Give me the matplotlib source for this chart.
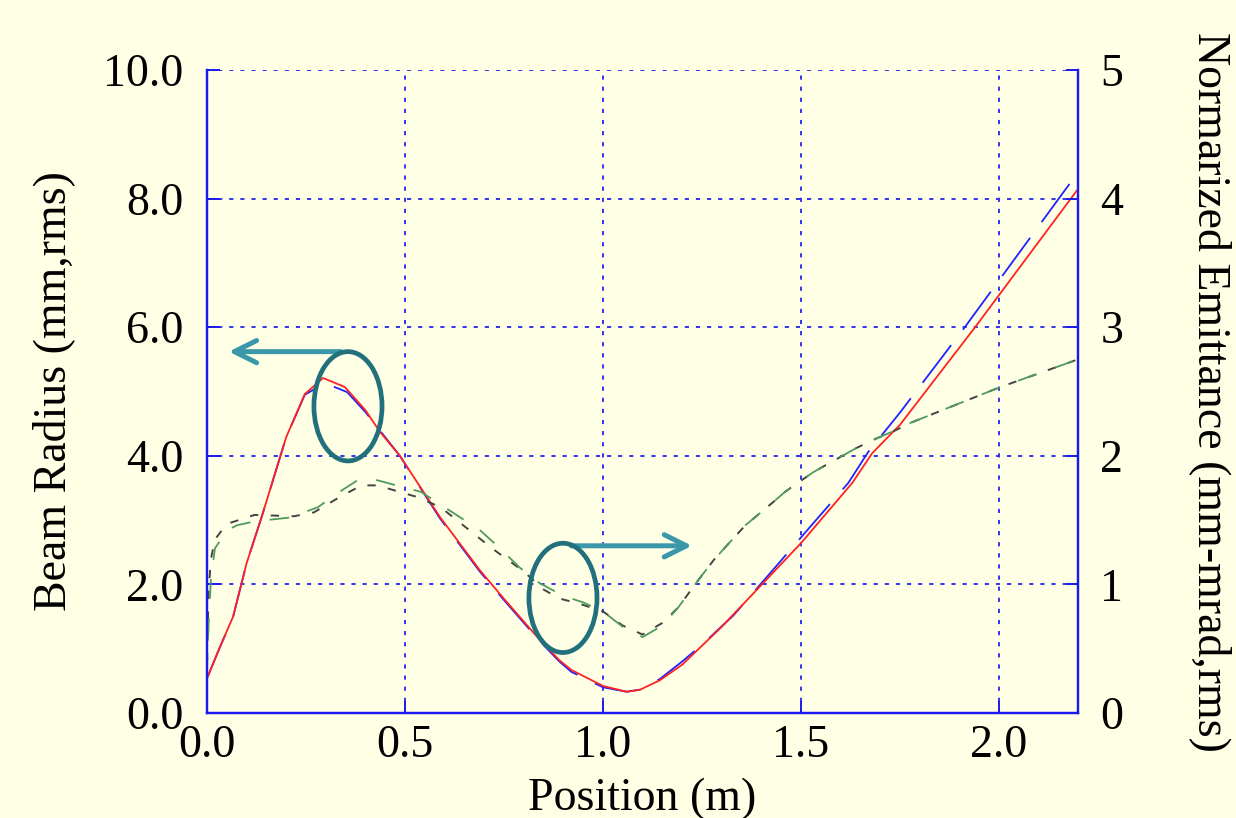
import matplotlib

matplotlib.use("Agg")
import matplotlib.pyplot as plt
from matplotlib.patches import Ellipse

# beam radius (mm, rms) vs position (m), two runs
pos_red = [0.0, 0.033, 0.066, 0.10, 0.138, 0.20, 0.247, 0.293, 0.348, 0.40, 0.437,
           0.487, 0.588, 0.689, 0.748, 0.84, 0.89, 0.92, 1.0, 1.06, 1.093, 1.144,
           1.20, 1.30, 1.40, 1.50, 1.565, 1.63, 1.68, 1.75, 1.94, 2.2]
rad_red = [0.54, 1.03, 1.50, 2.33, 3.05, 4.29, 4.96, 5.21, 5.07, 4.71, 4.37,
           4.0, 3.05, 2.22, 1.79, 1.14, 0.82, 0.67, 0.42, 0.33, 0.36, 0.51,
           0.75, 1.34, 1.99, 2.64, 3.11, 3.58, 4.04, 4.48, 6.0, 8.15]

pos_blue = [0.0, 0.033, 0.066, 0.10, 0.138, 0.20, 0.247, 0.298, 0.354, 0.40, 0.487,
            0.588, 0.689, 0.748, 0.84, 0.89, 0.92, 1.0, 1.06, 1.10, 1.144, 1.20,
            1.25, 1.33, 1.44, 1.51, 1.62, 1.67, 1.75, 1.914, 2.2]
rad_blue = [0.54, 1.03, 1.50, 2.33, 3.05, 4.29, 4.95, 5.13, 4.99, 4.68, 4.0,
            3.03, 2.2, 1.77, 1.12, 0.80, 0.64, 0.40, 0.33, 0.37, 0.53, 0.80,
            1.06, 1.52, 2.30, 2.80, 3.58, 4.06, 4.67, 6.0, 8.41]

# normalized emittance (mm-mrad, rms), two runs
pos_grey = [0.0, 0.004, 0.01, 0.02, 0.05, 0.12, 0.22, 0.27, 0.33, 0.39, 0.43,
            0.53, 0.59, 0.72, 0.80, 0.85, 0.89, 0.94, 1.0, 1.05, 1.10, 1.15,
            1.19, 1.24, 1.28, 1.33, 1.36, 1.43, 1.46, 1.53, 1.57, 1.64, 1.68,
            1.74, 1.78, 2.0, 2.2]
emit_grey = [0.4, 0.95, 1.2, 1.35, 1.47, 1.54, 1.53, 1.56, 1.67, 1.77, 1.77,
             1.68, 1.60, 1.28, 1.10, 0.96, 0.89, 0.85, 0.79, 0.68, 0.61, 0.70,
             0.82, 1.03, 1.19, 1.36, 1.46, 1.64, 1.72, 1.87, 1.94, 2.06, 2.12,
             2.20, 2.26, 2.53, 2.75]

pos_green = [0.0, 0.004, 0.01, 0.02, 0.05, 0.076, 0.12, 0.21, 0.28, 0.33, 0.38,
             0.43, 0.49, 0.54, 0.60, 0.69, 0.74, 0.79, 0.84, 0.90, 0.95, 1.0,
             1.05, 1.10, 1.15, 1.19, 1.24, 1.28, 1.33, 1.36, 1.43, 1.46, 1.53,
             1.57, 1.64, 1.68, 1.74, 1.78, 2.0, 2.2]
emit_green = [0.35, 0.7, 1.05, 1.28, 1.42, 1.46, 1.49, 1.52, 1.60, 1.71, 1.81,
              1.81, 1.76, 1.72, 1.60, 1.42, 1.28, 1.13, 1.01, 0.91, 0.86, 0.79,
              0.67, 0.59, 0.68, 0.82, 1.03, 1.19, 1.36, 1.46, 1.64, 1.72, 1.87,
              1.94, 2.06, 2.12, 2.20, 2.26, 2.53, 2.75]

x_ticks = [0.0, 0.5, 1.0, 1.5, 2.0]
y_ticks = [0.0, 2.0, 4.0, 6.0, 8.0, 10.0]
y2_ticks = [0, 1, 2, 3, 4, 5]

BG = "#ffffe6"
GRID = "#3333ee"
SPINE = "#1a1aee"

plt.rcParams["font.family"] = ["Liberation Serif", "DejaVu Serif"]
plt.rcParams["lines.scale_dashes"] = False

fig = plt.figure(figsize=(12.36, 8.18), dpi=100, facecolor=BG)
ax = fig.add_axes([0.1675, 0.1284, 0.8722 - 0.1675, 0.9144 - 0.1284])
ax.set_facecolor(BG)
ax2 = ax.twinx()

ax.plot(pos_red, rad_red, color="#ff2222", lw=1.3, zorder=4)
ax.plot(pos_blue, rad_blue, color="#2222ff", lw=1.3, ls=(0, (34, 14)), zorder=3)
ax2.plot(pos_grey, emit_grey, color="#444444", lw=1.4, ls=(0, (6, 9)))
ax2.plot(pos_green, emit_green, color="#4f9a5f", lw=1.3, ls=(6, (14, 14)))

ax.set_xlim(0, 2.2)
ax.set_ylim(0, 10)
ax2.set_ylim(0, 5)
ax.set_xticks(x_ticks)
ax.set_xticklabels([f"{v:.1f}" for v in x_ticks])
ax.set_yticks(y_ticks)
ax.set_yticklabels([f"{v:.1f}" for v in y_ticks])
ax2.set_yticks(y2_ticks)
ax2.set_yticklabels([str(v) for v in y2_ticks])

ax.grid(True, color=GRID, ls=(0, (3, 5)), lw=1.4)
ax.set_axisbelow(True)

for a in (ax, ax2):
    a.spines["top"].set_visible(False)
    for side in ("left", "right", "bottom"):
        a.spines[side].set_color(SPINE)
        a.spines[side].set_linewidth(1.6)
ax.tick_params(axis="both", direction="in", length=9, width=1.4, color=SPINE,
               labelsize=33)
ax.tick_params(axis="y", pad=17)
ax.tick_params(axis="x", pad=8)
ax2.tick_params(axis="y", direction="in", length=9, width=1.4, color=SPINE,
                labelsize=33, pad=16)

ax.set_xlabel("Position (m)", fontsize=33, labelpad=8)
ax.set_ylabel("Beam Radius (mm,rms)", fontsize=33, labelpad=20)
ax2.set_ylabel("Normarized Emittance (mm-mrad,rms)", fontsize=33,
               rotation=-90, labelpad=78)

# annotations: ellipses marking each curve family, arrows pointing to its axis
ring = "#22707c"
arrow = "#3a98aa"
head = "->,head_length=1.6,head_width=0.8"
ax2.add_patch(Ellipse((0.356, 4.77 / 2), 0.172, 1.70 / 2, fill=False,
                      ec=ring, lw=3.4, zorder=6))
ax2.add_patch(Ellipse((0.899, 1.79 / 2), 0.172, 1.70 / 2, fill=False,
                      ec=ring, lw=3.4, zorder=6))
ax2.annotate("", xy=(0.055, 5.62 / 2), xytext=(0.338, 5.62 / 2),
             arrowprops=dict(arrowstyle=head, color=arrow, lw=3.6,
                             shrinkA=0, shrinkB=0), zorder=5)
ax2.annotate("", xy=(1.225, 2.6 / 2), xytext=(0.92, 2.6 / 2),
             arrowprops=dict(arrowstyle=head, color=arrow, lw=3.6,
                             shrinkA=0, shrinkB=0), zorder=5)

fig.savefig("out.png", dpi=100, facecolor=BG)
